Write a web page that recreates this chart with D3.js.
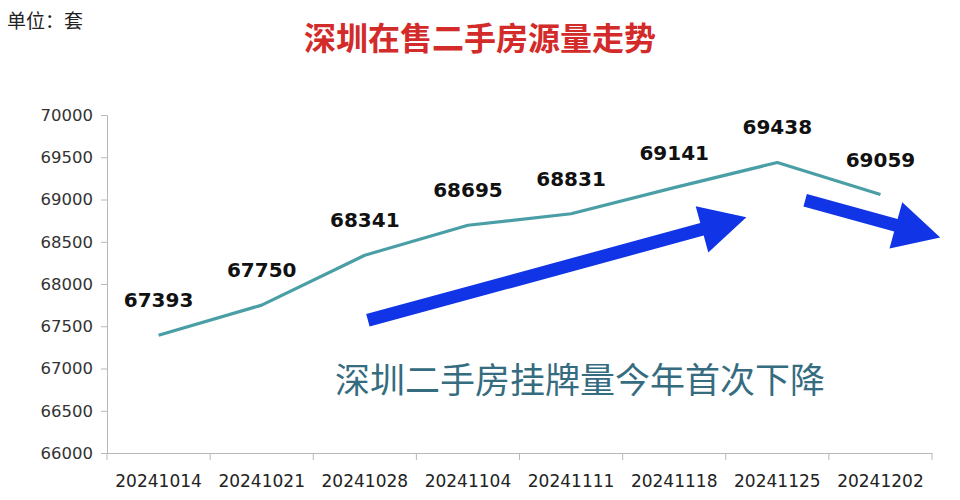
<!DOCTYPE html>
<html>
<head>
<meta charset="utf-8">
<script src="https://cdn.jsdelivr.net/npm/d3@7"></script>
<style>
body { margin: 0; background: #fff; }
</style>
</head>
<body>
<svg id="chart" width="960" height="500"></svg>
<script>
var dates = ["20241014", "20241021", "20241028", "20241104", "20241111", "20241118", "20241125", "20241202"];
var listings = [67393, 67750, 68341, 68695, 68831, 69141, 69438, 69059];
var yTicks = [66000, 66500, 67000, 67500, 68000, 68500, 69000, 69500, 70000];

var svg = d3.select("#chart");
var margin = {left: 107, right: 28, top: 115, bottom: 47};
var w = 960 - margin.left - margin.right;
var h = 500 - margin.top - margin.bottom;

var x = d3.scaleBand().domain(dates).range([margin.left, margin.left + w]);
var y = d3.scaleLinear().domain([66000, 70000]).range([margin.top + h, margin.top]);
var cx = function(i) { return x(dates[i]) + x.bandwidth() / 2; };

// header texts
svg.append("text")
    .attr("x", 7).attr("y", 28)
    .style("font-family", "'Noto Sans CJK SC'")
    .style("font-size", "19px")
    .attr("fill", "#222")
    .text("单位：套");

svg.append("text")
    .attr("x", 480).attr("y", 50)
    .attr("text-anchor", "middle")
    .style("font-family", "'Noto Sans CJK SC'")
    .style("font-size", "32px")
    .style("font-weight", "bold")
    .attr("fill", "#d32a2a")
    .text("深圳在售二手房源量走势");

// y axis
var yAxis = svg.append("g")
    .attr("transform", "translate(" + margin.left + ",0)")
    .call(d3.axisLeft(y).tickValues(yTicks).tickSize(6).tickPadding(8).tickFormat(d3.format("d")));
yAxis.select(".domain").attr("stroke", "#b8b8b8");
yAxis.selectAll(".tick line").attr("stroke", "#b8b8b8");
yAxis.selectAll("text")
    .style("font-family", "'DejaVu Sans'")
    .style("font-size", "16.5px")
    .attr("fill", "#333");

// x axis with ticks on category boundaries
var xAxis = svg.append("g")
    .attr("transform", "translate(0," + (margin.top + h) + ")")
    .call(d3.axisBottom(x).tickSize(0).tickPadding(22));
xAxis.select(".domain").attr("stroke", "#b8b8b8");
xAxis.selectAll("text")
    .style("font-family", "'DejaVu Sans'")
    .style("font-size", "17px")
    .attr("fill", "#222");
xAxis.selectAll(".bound")
    .data(d3.range(dates.length + 1))
    .enter()
    .append("line")
    .attr("x1", function(i) { return margin.left + i * x.bandwidth(); })
    .attr("x2", function(i) { return margin.left + i * x.bandwidth(); })
    .attr("y1", 0).attr("y2", 7)
    .attr("stroke", "#b8b8b8");

// series line
var line = d3.line()
    .x(function(d, i) { return cx(i); })
    .y(function(d) { return y(d); });

svg.append("path")
    .datum(listings)
    .attr("d", line)
    .attr("fill", "none")
    .attr("stroke", "#4a9ea6")
    .attr("stroke-width", 3.2)
    .attr("stroke-linejoin", "round");

// value labels
svg.selectAll(".val")
    .data(listings)
    .enter()
    .append("text")
    .attr("class", "val")
    .attr("x", function(d, i) { return cx(i); })
    .attr("y", function(d) { return y(d) - 28; })
    .attr("text-anchor", "middle")
    .style("font-family", "'DejaVu Sans'")
    .style("font-size", "20px")
    .style("font-weight", "bold")
    .attr("fill", "#111")
    .text(function(d) { return d; });

// annotation arrows (start index, start value, end index, end value)
var arrows = [
    {x0: 2.03, v0: 67570, x1: 5.7, v1: 68790},
    {x0: 6.27, v0: 68990, x1: 7.58, v1: 68550}
];
var arrowPoly = function(a) {
    var x0 = cx(0) + a.x0 * x.bandwidth(), y0 = y(a.v0);
    var x1 = cx(0) + a.x1 * x.bandwidth(), y1 = y(a.v1);
    var dx = x1 - x0, dy = y1 - y0, len = Math.sqrt(dx * dx + dy * dy);
    var ux = dx / len, uy = dy / len, nx = -uy, ny = ux;
    var sw = 6.5, hl = 46, hw = 24;
    var bx = x1 - ux * hl, by = y1 - uy * hl;
    return [
        [x0 + nx * sw, y0 + ny * sw],
        [bx + nx * sw, by + ny * sw],
        [bx + nx * hw, by + ny * hw],
        [x1, y1],
        [bx - nx * hw, by - ny * hw],
        [bx - nx * sw, by - ny * sw],
        [x0 - nx * sw, y0 - ny * sw]
    ];
};
svg.selectAll(".arrow")
    .data(arrows)
    .enter()
    .append("polygon")
    .attr("points", function(d) { return arrowPoly(d).join(" "); })
    .attr("fill", "#1034e6");

svg.append("text")
    .attr("x", 580).attr("y", 393)
    .attr("text-anchor", "middle")
    .style("font-family", "'Noto Sans CJK SC'")
    .style("font-size", "35px")
    .attr("fill", "#356c80")
    .text("深圳二手房挂牌量今年首次下降");
</script>
</body>
</html>
